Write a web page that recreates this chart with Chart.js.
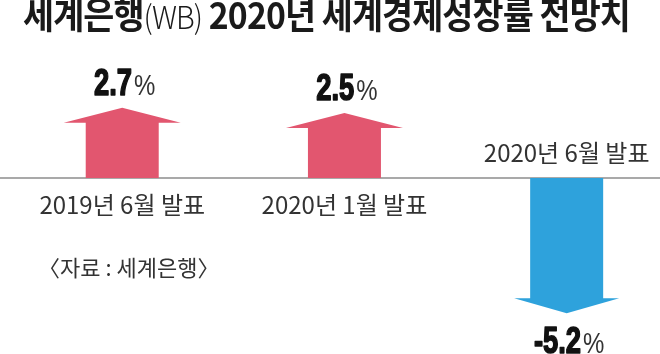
<!DOCTYPE html>
<html><head><meta charset="utf-8">
<script src="https://cdn.jsdelivr.net/npm/chart.js@4"></script>
<style>
html,body{margin:0;padding:0;background:#fff;}
#wrap{position:relative;width:660px;height:354px;overflow:hidden;}
#title{position:absolute;left:23px;top:-9px;white-space:nowrap;font-family:'Noto Sans CJK KR','Noto Sans',sans-serif;font-weight:700;font-size:37px;line-height:44px;color:#1a1a1a;transform-origin:0 0;letter-spacing:-1px;}
#title .t{font-weight:300;font-size:32px;}
#src{position:absolute;left:38px;top:251px;white-space:nowrap;font-family:'Noto Sans CJK KR',sans-serif;font-size:22px;line-height:30px;color:#333;}
canvas{position:absolute;left:0;top:0;}
</style></head>
<body><div id="wrap">
<canvas id="c" width="660" height="354"></canvas>
<div id="title">세계은행<span class="t">(WB)</span> 2020년 세계경제성장률 전망치</div>
<div id="src">〈자료 : 세계은행〉</div>
</div>
<script>
const categories = ['2019년 6월 발표', '2020년 1월 발표', '2020년 6월 발표'];
const growth = [2.7, 2.5, -5.2];
const unit = '%';

// fit title width
(function(){
  const t = document.getElementById('title');
  const w = t.getBoundingClientRect().width;
  t.style.transform = 'scaleX(' + (607 / w) + ')';
})();

const NUM_FONT = "bold 37px 'Liberation Sans','Arial',sans-serif";
const PCT_FONT = "30px 'Liberation Sans Narrow','Liberation Sans',sans-serif";
const NUM_SX = 0.74;
const PCT_SX = 0.8;

const arrowPlugin = {
  id: 'arrows',
  beforeDatasetsDraw(chart) {
    const ctx = chart.ctx;
    const y0 = chart.scales.y.getPixelForValue(0);
    ctx.save();
    ctx.strokeStyle = '#8c8c8c';
    ctx.lineWidth = 1.5;
    ctx.beginPath();
    ctx.moveTo(0, y0);
    ctx.lineTo(chart.width, y0);
    ctx.stroke();
    ctx.restore();
  },
  afterDatasetsDraw(chart) {
    const ctx = chart.ctx;
    const meta = chart.getDatasetMeta(0);
    meta.data.forEach((el, i) => {
      const v = growth[i];
      const p = el.getProps(['x', 'y', 'base', 'width'], true);
      const up = v >= 0;
      const dir = up ? -1 : 1;
      const headH = 15;
      const half = p.width / 2;
      const ext = up ? 22 : 16;
      const neck = p.y - dir * headH;
      ctx.save();
      ctx.fillStyle = up ? '#e2566f' : '#2ea2dc';
      ctx.beginPath();
      ctx.moveTo(p.x - half, p.base);
      ctx.lineTo(p.x - half, neck);
      ctx.lineTo(p.x - half - ext, neck);
      ctx.lineTo(p.x, p.y);
      ctx.lineTo(p.x + half + ext, neck);
      ctx.lineTo(p.x + half, neck);
      ctx.lineTo(p.x + half, p.base);
      ctx.closePath();
      ctx.fill();

      // value label
      const num = v.toFixed(1);
      ctx.textBaseline = 'alphabetic';
      ctx.textAlign = 'left';
      ctx.font = NUM_FONT;
      const wNum = ctx.measureText(num).width * NUM_SX;
      ctx.font = PCT_FONT;
      const wPct = ctx.measureText(unit).width * PCT_SX;
      const total = wNum + wPct + 1;
      const startX = p.x - total / 2 + 2;
      const baseY = up ? p.y - 13 : p.y + 40;
      ctx.save();
      ctx.translate(startX, baseY);
      ctx.scale(NUM_SX, 1);
      ctx.fillStyle = '#111';
      ctx.strokeStyle = '#111';
      ctx.lineWidth = 1.6;
      ctx.lineJoin = 'round';
      ctx.font = NUM_FONT;
      ctx.fillText(num, 0, 0);
      ctx.strokeText(num, 0, 0);
      ctx.restore();
      ctx.save();
      ctx.translate(startX + wNum + 2, baseY);
      ctx.scale(PCT_SX, 1);
      ctx.fillStyle = '#333';
      ctx.font = PCT_FONT;
      ctx.fillText(unit, 0, 0);
      ctx.restore();

      // category label
      ctx.font = "24px 'Noto Sans CJK KR',sans-serif";
      ctx.fillStyle = '#333';
      ctx.textAlign = 'center';
      ctx.textBaseline = 'middle';
      const ly = up ? p.base + 27 : p.base - 25;
      ctx.fillText(categories[i], p.x, ly);
      ctx.restore();
    });
  }
};

new Chart(document.getElementById('c'), {
  type: 'bar',
  data: {
    labels: categories,
    datasets: [{
      data: growth.map((v, i) => ({ x: i, y: v })),
      backgroundColor: 'rgba(0,0,0,0)',
      barThickness: 73
    }]
  },
  options: {
    responsive: false,
    animation: false,
    events: [],
    layout: { padding: { left: 0, right: 0, top: 74, bottom: 20 } },
    plugins: { legend: { display: false }, tooltip: { enabled: false }, title: { display: false } },
    scales: {
      x: { type: 'linear', min: -0.55, max: 2.42, offset: false, display: false },
      y: { min: -6, max: 4, display: false }
    }
  },
  plugins: [arrowPlugin]
});
</script>
</body></html>
